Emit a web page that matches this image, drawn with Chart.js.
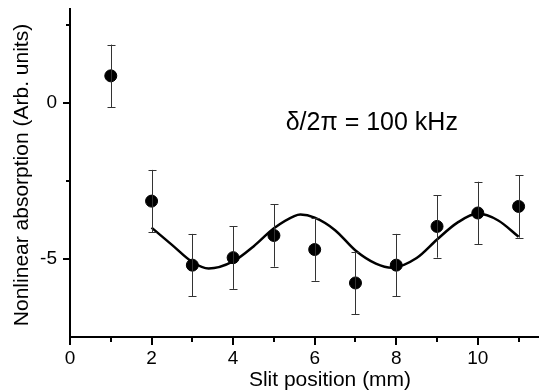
<!DOCTYPE html>
<html>
<head>
<meta charset="utf-8">
<script src="https://cdn.jsdelivr.net/npm/chart.js@4/dist/chart.umd.min.js"></script>
<style>
  html, body { margin: 0; padding: 0; background: #fff; }
  #wrap { width: 539px; height: 390px; position: relative; }
</style>
</head>
<body>
<div id="wrap"><canvas id="c" width="539" height="390"></canvas></div>
<script>
// ---- data ----
const slitPos      = [1, 2, 3, 4, 5, 6, 7, 8, 9, 10, 11];
const absorption   = [0.86, -3.15, -5.2, -4.96, -4.25, -4.7, -5.77, -5.2, -3.96, -3.53, -3.32];
const absError     = [1.0, 1.0, 1.0, 1.0, 1.0, 1.0, 1.0, 1.0, 1.0, 1.0, 1.0];
const fitX = [2, 2.5, 3, 3.4, 4, 4.5, 5, 5.5, 5.65, 6, 6.5, 7, 7.5, 7.9, 8.5, 9, 9.5, 10, 10.5, 11];
const fitY = [-4.0, -4.55, -5.1, -5.31, -5.08, -4.6, -4.02, -3.63, -3.58, -3.68, -4.08, -4.73, -5.15, -5.28, -4.97, -4.38, -3.84, -3.55, -3.77, -4.29];
const xMajorTicks = [0, 2, 4, 6, 8, 10];
const xMinorTicks = [1, 3, 5, 7, 9, 11];
const yMajorTicks = [0, -5];
const yMinorTicks = [2.5, -2.5];
const xTitle = 'Slit position (mm)';
const yTitle = 'Nonlinear absorption (Arb. units)';
const annotation = 'δ/2π = 100 kHz';

const FONT = '"Liberation Sans", Arial, Helvetica, sans-serif';
const ZERO_PAD = () => ({ left: 0, top: 0, right: 0, bottom: 0 });

const errorBars = {
  id: 'errorBars',
  afterDatasetsDraw(chart) {
    const ctx = chart.ctx, xs = chart.scales.x, ys = chart.scales.y;
    ctx.save();
    ctx.strokeStyle = '#333';
    ctx.lineWidth = 1;
    for (let i = 0; i < slitPos.length; i++) {
      const x = Math.round(xs.getPixelForValue(slitPos[i])) + 0.5;
      const y1 = ys.getPixelForValue(absorption[i] + absError[i]);
      const y2 = ys.getPixelForValue(absorption[i] - absError[i]);
      ctx.beginPath();
      ctx.moveTo(x, y1); ctx.lineTo(x, y2);
      ctx.moveTo(x - 4, Math.round(y1) + 0.5); ctx.lineTo(x + 4, Math.round(y1) + 0.5);
      ctx.moveTo(x - 4, Math.round(y2) + 0.5); ctx.lineTo(x + 4, Math.round(y2) + 0.5);
      ctx.stroke();
    }
    ctx.restore();
  }
};

const axisDecor = {
  id: 'axisDecor',
  afterDraw(chart) {
    const ctx = chart.ctx, xs = chart.scales.x, ys = chart.scales.y;
    const a = chart.chartArea;
    ctx.save();
    ctx.strokeStyle = '#000';
    ctx.lineWidth = 2;
    ctx.beginPath();
    xMajorTicks.forEach(v => { const p = Math.round(xs.getPixelForValue(v)); ctx.moveTo(p, a.bottom); ctx.lineTo(p, a.bottom + 8); });
    xMinorTicks.forEach(v => { const p = Math.round(xs.getPixelForValue(v)); ctx.moveTo(p, a.bottom); ctx.lineTo(p, a.bottom + 5); });
    yMajorTicks.forEach(v => { const p = Math.round(ys.getPixelForValue(v)); ctx.moveTo(a.left, p); ctx.lineTo(a.left - 7, p); });
    yMinorTicks.forEach(v => { const p = Math.round(ys.getPixelForValue(v)); ctx.moveTo(a.left, p); ctx.lineTo(a.left - 4, p); });
    ctx.stroke();

    ctx.fillStyle = '#000';
    ctx.font = '21px ' + FONT;
    ctx.textAlign = 'center';
    ctx.textBaseline = 'alphabetic';
    ctx.fillText(xTitle, 330, 386);
    ctx.save();
    ctx.translate(28, 175);
    ctx.rotate(-Math.PI / 2);
    ctx.fillText(yTitle, 0, 0);
    ctx.restore();
    ctx.font = '25px ' + FONT;
    ctx.textAlign = 'center';
    ctx.fillText(annotation, xs.getPixelForValue(7.4), ys.getPixelForValue(-0.86));
    ctx.restore();
  }
};

new Chart(document.getElementById('c'), {
  data: {
    datasets: [
      {
        type: 'line',
        data: fitX.map((x, i) => ({ x, y: fitY[i] })),
        borderColor: '#000',
        borderWidth: 2.5,
        pointRadius: 0,
        cubicInterpolationMode: 'monotone',
        fill: false,
        order: 2
      },
      {
        type: 'scatter',
        data: slitPos.map((x, i) => ({ x, y: absorption[i] })),
        backgroundColor: '#000',
        borderColor: '#000',
        pointRadius: 6,
        pointHoverRadius: 6,
        order: 1
      }
    ]
  },
  options: {
    responsive: false,
    animation: false,
    events: [],
    layout: { autoPadding: false, padding: { top: 9, right: 0, left: 0, bottom: 0 } },
    plugins: { legend: { display: false }, tooltip: { enabled: false } },
    scales: {
      x: {
        type: 'linear',
        min: 0, max: 11.5,
        afterFit: s => { s.height = 53; s.paddingLeft = 0; s.paddingRight = 0; s.getPadding = ZERO_PAD; },
        afterBuildTicks: s => { s.ticks = xMajorTicks.map(v => ({ value: v })); },
        grid: { display: false, drawTicks: false },
        border: { display: true, color: '#000', width: 2 },
        ticks: { color: '#000', font: { family: FONT, size: 19 }, padding: 10, maxRotation: 0, autoSkip: false }
      },
      y: {
        type: 'linear',
        min: -7.5, max: 3,
        afterFit: s => { s.width = 70; s.paddingTop = 0; s.paddingBottom = 0; s.getPadding = ZERO_PAD; },
        afterBuildTicks: s => { s.ticks = yMajorTicks.map(v => ({ value: v })); },
        grid: { display: false, drawTicks: false },
        border: { display: true, color: '#000', width: 2 },
        ticks: { color: '#000', font: { family: FONT, size: 19 }, padding: 13, autoSkip: false }
      }
    }
  },
  plugins: [errorBars, axisDecor]
});
</script>
</body>
</html>
